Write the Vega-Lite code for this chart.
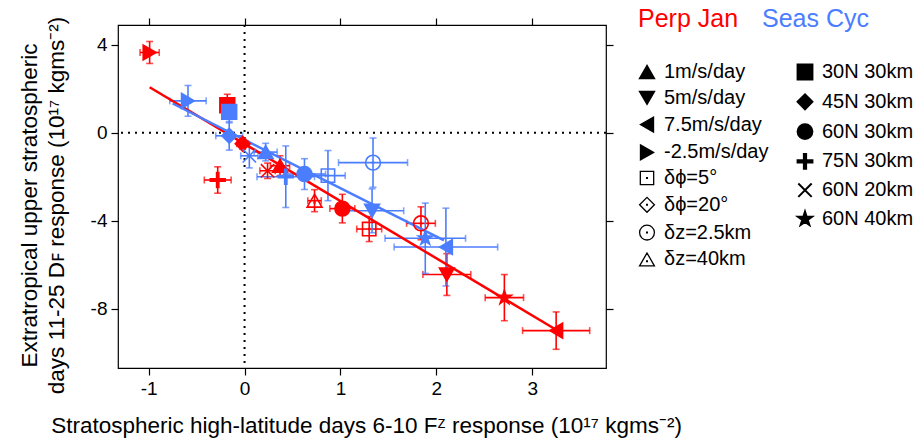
{
  "$schema": "https://vega.github.io/schema/vega-lite/v6.json",
  "width": 488,
  "height": 343,
  "autosize": {"type": "none"},
  "padding": {"left": 118, "top": 25, "right": 313, "bottom": 74},
  "background": "white",
  "config": {
    "font": "Liberation Sans",
    "view": {"stroke": "black", "strokeWidth": 1.2},
    "axis": {
      "grid": false, "domain": false, "tickColor": "black", "tickWidth": 1.2, "tickSize": 7,
      "labelFont": "Liberation Sans", "labelFontSize": 19, "labelColor": "black", "labelPadding": 4,
      "titleFont": "Liberation Sans", "titleFontSize": 22.5, "titleFontWeight": "normal", "titleColor": "black"
    },
    "legend": {"labelFont": "Liberation Sans", "padding": 0}
  },
  "datasets": {
    "pts": [
      {"g": "Perp Jan", "exp": "-2.5m/s/day", "x": -0.99, "y": 3.65, "xerr": 0.1, "yerr": 0.5},
      {"g": "Perp Jan", "exp": "30N 30km", "x": -0.18, "y": 1.25, "xerr": 0.04, "yerr": 0.5},
      {"g": "Perp Jan", "exp": "45N 30km", "x": -0.02, "y": -0.5, "xerr": 0.06, "yerr": 0.25},
      {"g": "Perp Jan", "exp": "75N 30km", "x": -0.28, "y": -2.15, "xerr": 0.14, "yerr": 0.6},
      {"g": "Perp Jan", "exp": "60N 20km", "x": 0.24, "y": -1.73, "xerr": 0.08, "yerr": 0.35},
      {"g": "Perp Jan", "exp": "1m/s/day", "x": 0.37, "y": -1.5, "xerr": 0.1, "yerr": 0.45},
      {"g": "Perp Jan", "exp": "60N 30km", "x": 1.02, "y": -3.45, "xerr": 0.13, "yerr": 0.65},
      {"g": "Perp Jan", "exp": "δz=40km", "x": 0.73, "y": -3.09, "xerr": 0.07, "yerr": 0.5},
      {"g": "Perp Jan", "exp": "δϕ=5°", "x": 1.3, "y": -4.38, "xerr": 0.13, "yerr": 0.57},
      {"g": "Perp Jan", "exp": "δz=2.5km", "x": 1.84, "y": -4.12, "xerr": 0.15, "yerr": 0.75},
      {"g": "Perp Jan", "exp": "5m/s/day", "x": 2.11, "y": -6.45, "xerr": 0.25, "yerr": 0.95},
      {"g": "Perp Jan", "exp": "60N 40km", "x": 2.71, "y": -7.5, "xerr": 0.2, "yerr": 1.05},
      {"g": "Perp Jan", "exp": "7.5m/s/day", "x": 3.25, "y": -9.0, "xerr": 0.35, "yerr": 0.85},
      {"g": "Seas Cyc", "exp": "-2.5m/s/day", "x": -0.59, "y": 1.45, "xerr": 0.19, "yerr": 0.7},
      {"g": "Seas Cyc", "exp": "30N 30km", "x": -0.16, "y": 0.95, "xerr": 0.04, "yerr": 0.5},
      {"g": "Seas Cyc", "exp": "45N 30km", "x": -0.16, "y": -0.14, "xerr": 0.14, "yerr": 0.65},
      {"g": "Seas Cyc", "exp": "60N 20km", "x": 0.05, "y": -1.05, "xerr": 0.09, "yerr": 0.55},
      {"g": "Seas Cyc", "exp": "1m/s/day", "x": 0.22, "y": -0.88, "xerr": 0.12, "yerr": 0.4},
      {"g": "Seas Cyc", "exp": "75N 30km", "x": 0.43, "y": -2.0, "xerr": 0.3, "yerr": 1.4},
      {"g": "Seas Cyc", "exp": "60N 30km", "x": 0.625, "y": -1.88, "xerr": 0.22, "yerr": 0.7},
      {"g": "Seas Cyc", "exp": "δϕ=5°", "x": 0.87, "y": -1.95, "xerr": 0.18, "yerr": 1.14},
      {"g": "Seas Cyc", "exp": "δz=2.5km", "x": 1.34, "y": -1.36, "xerr": 0.36, "yerr": 1.12},
      {"g": "Seas Cyc", "exp": "5m/s/day", "x": 1.33, "y": -3.55, "xerr": 0.33, "yerr": 1.0},
      {"g": "Seas Cyc", "exp": "60N 40km", "x": 1.885, "y": -4.8, "xerr": 0.42, "yerr": 1.6},
      {"g": "Seas Cyc", "exp": "7.5m/s/day", "x": 2.1, "y": -5.2, "xerr": 0.54, "yerr": 1.77}
    ],
    "fits": [
      {"g": "Perp Jan", "x": -0.99, "y": 2.07},
      {"g": "Perp Jan", "x": 3.25, "y": -8.96},
      {"g": "Seas Cyc", "x": -0.75, "y": 1.33},
      {"g": "Seas Cyc", "x": 2.08, "y": -4.9}
    ]
  },
  "data": {"name": "pts"},
  "layer": [
    {
      "data": {"values": [{}]},
      "mark": {"type": "rule", "strokeDash": [2, 5], "strokeWidth": 2, "color": "black"},
      "encoding": {"y": {"datum": 0, "type": "quantitative", "axis": null}}
    },
    {
      "data": {"values": [{}]},
      "mark": {"type": "rule", "strokeDash": [2, 5], "strokeWidth": 2, "color": "black"},
      "encoding": {"x": {"datum": 0, "type": "quantitative", "axis": null}}
    },
    {
      "mark": {"type": "errorbar", "thickness": 1.6, "ticks": {"size": 7, "thickness": 1.6}},
      "encoding": {
        "x": {"field": "x", "type": "quantitative", "scale": {"domain": [-1.32, 3.77], "nice": false, "zero": false},
              "axis": {"orient": "bottom", "values": [-1, 0, 1, 2, 3], "labelExpr": "'' + datum.value",
                       "title": "Stratospheric high-latitude days 6-10 Fᶻ response (10¹⁷ kgms⁻²)",
                       "titleX": 248, "titleY": 57, "titleBaseline": "middle", "titleAlign": "center"}},
        "xError": {"field": "xerr"},
        "y": {"field": "y", "type": "quantitative", "scale": {"domain": [-10.7, 4.9], "nice": false, "zero": false},
              "axis": {"orient": "left", "values": [-8, -4, 0, 4], "labelExpr": "'' + datum.value",
                       "title": ["Extratropical upper stratospheric", "days 11-25 Dꜰ response (10¹⁷ kgms⁻²)"],
                       "titleAngle": -90, "titleX": -89, "titleY": 180, "titleBaseline": "middle", "titleAlign": "center", "titleLineHeight": 27}},
        "color": {"field": "g", "type": "nominal", "scale": {"domain": ["Perp Jan", "Seas Cyc"], "range": ["#ff0000", "#4b7dff"]},
                  "legend": {"orient": "none", "legendX": 495, "legendY": -19, "direction": "horizontal", "title": null, "values": ["Perp Jan"],
                             "symbolSize": 0, "symbolOpacity": 0, "labelFontSize": 25, "labelOffset": 0, "labelColor": "#ff0000"}}
      }
    },
    {
      "mark": {"type": "errorbar", "thickness": 1.6, "ticks": {"size": 7, "thickness": 1.6}},
      "encoding": {
        "y": {"field": "y", "type": "quantitative", "axis": {"orient": "right", "values": [-8, -4, 0, 4], "labels": false, "title": null}},
        "yError": {"field": "yerr"},
        "x": {"field": "x", "type": "quantitative", "axis": {"orient": "top", "values": [-1, 0, 1, 2, 3], "labels": false, "title": null}},
        "color": {"field": "g", "type": "nominal", "scale": {"domain": ["Perp Jan", "Seas Cyc"], "range": ["#ff0000", "#4b7dff"]},
                  "legend": {"orient": "none", "legendX": 495, "legendY": -19, "direction": "horizontal", "title": null, "values": ["Perp Jan"],
                             "symbolSize": 0, "symbolOpacity": 0, "labelFontSize": 25, "labelOffset": 0, "labelColor": "#ff0000"}}
      }
    },
    {
      "data": {"name": "fits"},
      "mark": {"type": "line", "strokeWidth": 2.5},
      "encoding": {
        "x": {"field": "x", "type": "quantitative", "axis": null},
        "y": {"field": "y", "type": "quantitative", "axis": null},
        "color": {"field": "g", "type": "nominal", "scale": {"domain": ["Perp Jan", "Seas Cyc"], "range": ["#ff0000", "#4b7dff"]},
                  "legend": {"orient": "none", "legendX": 495, "legendY": -19, "direction": "horizontal", "title": null, "values": ["Perp Jan"],
                             "symbolSize": 0, "symbolOpacity": 0, "labelFontSize": 25, "labelOffset": 0, "labelColor": "#ff0000"}}
      }
    },
    {
      "transform": [{"filter": "indexof(['1m/s/day','5m/s/day','7.5m/s/day','-2.5m/s/day'], datum.exp) >= 0"}],
      "mark": {"type": "point", "filled": true, "size": 220, "strokeWidth": 1.6, "opacity": 1},
      "encoding": {
        "x": {"field": "x", "type": "quantitative", "axis": null},
        "y": {"field": "y", "type": "quantitative", "axis": null},
        "fill": {"field": "g", "type": "nominal", "scale": {"domain": ["Perp Jan", "Seas Cyc"], "range": ["#ff0000", "#4b7dff"]}, "legend": null},
        "stroke": {"field": "g", "type": "nominal", "scale": {"domain": ["Seas Cyc", "Perp Jan"], "range": ["#4b7dff", "#ff0000"]},
                   "legend": {"orient": "none", "legendX": 619, "legendY": -19, "direction": "horizontal", "title": null, "values": ["Seas Cyc"],
                              "symbolSize": 0, "symbolOpacity": 0, "labelFontSize": 25, "labelOffset": 0, "labelColor": "#4b7dff"}},
        "shape": {"field": "exp", "type": "nominal",
                  "scale": {"domain": ["1m/s/day", "5m/s/day", "7.5m/s/day", "-2.5m/s/day"],
                            "range": ["triangle-up", "triangle-down", "triangle-left", "triangle-right"]},
                  "legend": {"orient": "none", "legendX": 519, "legendY": 37, "direction": "vertical", "title": null,
                             "symbolSize": 220, "symbolFillColor": "black", "symbolStrokeColor": "black", "symbolStrokeWidth": 1.5,
                             "labelFontSize": 20, "labelOffset": 7, "rowPadding": 5.8, "labelLimit": 300, "labelColor": "black"}}
      }
    },
    {
      "transform": [{"filter": "indexof(['δϕ=5°','δϕ=20°','δz=2.5km','δz=40km'], datum.exp) >= 0"}],
      "mark": {"type": "point", "filled": false, "size": 220, "strokeWidth": 1.6, "opacity": 1},
      "encoding": {
        "x": {"field": "x", "type": "quantitative", "axis": null},
        "y": {"field": "y", "type": "quantitative", "axis": null},
        "stroke": {"field": "g", "type": "nominal", "scale": {"domain": ["Seas Cyc", "Perp Jan"], "range": ["#4b7dff", "#ff0000"]},
                   "legend": {"orient": "none", "legendX": 619, "legendY": -19, "direction": "horizontal", "title": null, "values": ["Seas Cyc"],
                              "symbolSize": 0, "symbolOpacity": 0, "labelFontSize": 25, "labelOffset": 0, "labelColor": "#4b7dff"}},
        "shape": {"field": "exp", "type": "nominal",
                  "scale": {"domain": ["δϕ=5°", "δϕ=20°", "δz=2.5km", "δz=40km"],
                            "range": ["M-0.9,-0.9H0.9V0.9H-0.9Z M-0.05,-0.05H0.05V0.05H-0.05Z",
                                      "M0,-1L1,0L0,1L-1,0Z M-0.05,-0.05H0.05V0.05H-0.05Z",
                                      "M1,0A1,1,0,1,1,-1,0A1,1,0,1,1,1,0Z M-0.05,-0.05H0.05V0.05H-0.05Z",
                                      "M0,-0.866L1,0.866L-1,0.866Z M-0.05,0.2H0.05V0.3H-0.05Z"]},
                  "legend": {"orient": "none", "legendX": 519, "legendY": 143, "direction": "vertical", "title": null,
                             "symbolSize": 220, "symbolFillColor": "white", "symbolStrokeColor": "black", "symbolStrokeWidth": 1.3,
                             "labelFontSize": 20, "labelOffset": 7, "rowPadding": 5.8, "labelLimit": 300, "labelColor": "black"}}
      }
    },
    {
      "transform": [{"filter": "indexof(['30N 30km','45N 30km','60N 30km','75N 30km','60N 20km','60N 40km'], datum.exp) >= 0"}],
      "mark": {"type": "point", "filled": true, "size": 220, "strokeWidth": 1.6, "opacity": 1},
      "encoding": {
        "x": {"field": "x", "type": "quantitative", "axis": null},
        "y": {"field": "y", "type": "quantitative", "axis": null},
        "fill": {"field": "g", "type": "nominal", "scale": {"domain": ["Perp Jan", "Seas Cyc"], "range": ["#ff0000", "#4b7dff"]}, "legend": null},
        "stroke": {"field": "g", "type": "nominal", "scale": {"domain": ["Seas Cyc", "Perp Jan"], "range": ["#4b7dff", "#ff0000"]},
                   "legend": {"orient": "none", "legendX": 619, "legendY": -19, "direction": "horizontal", "title": null, "values": ["Seas Cyc"],
                              "symbolSize": 0, "symbolOpacity": 0, "labelFontSize": 25, "labelOffset": 0, "labelColor": "#4b7dff"}},
        "shape": {"field": "exp", "type": "nominal",
                  "scale": {"domain": ["30N 30km", "45N 30km", "60N 30km", "75N 30km", "60N 20km", "60N 40km"],
                            "range": ["square", "diamond", "circle",
                                      "M-1,-0.15H-0.15V-1H0.15V-0.15H1V0.15H0.15V1H-0.15V0.15H-1Z",
                                      "M-0.9,-0.9L0.9,0.9M-0.9,0.9L0.9,-0.9",
                                      "M0,-1L0.225,-0.309L0.951,-0.309L0.363,0.118L0.588,0.809L0,0.382L-0.588,0.809L-0.363,0.118L-0.951,-0.309L-0.225,-0.309Z"]},
                  "legend": {"orient": "none", "legendX": 677, "legendY": 37, "direction": "vertical", "title": null,
                             "symbolSize": 220, "symbolFillColor": "black", "symbolStrokeColor": "black", "symbolStrokeWidth": 2,
                             "labelFontSize": 20, "labelOffset": 7, "rowPadding": 5.8, "labelLimit": 300, "labelColor": "black"}}
      }
    }
  ],
  "resolve": {"scale": {"shape": "independent"}, "axis": {"x": "independent", "y": "independent"}}
}
